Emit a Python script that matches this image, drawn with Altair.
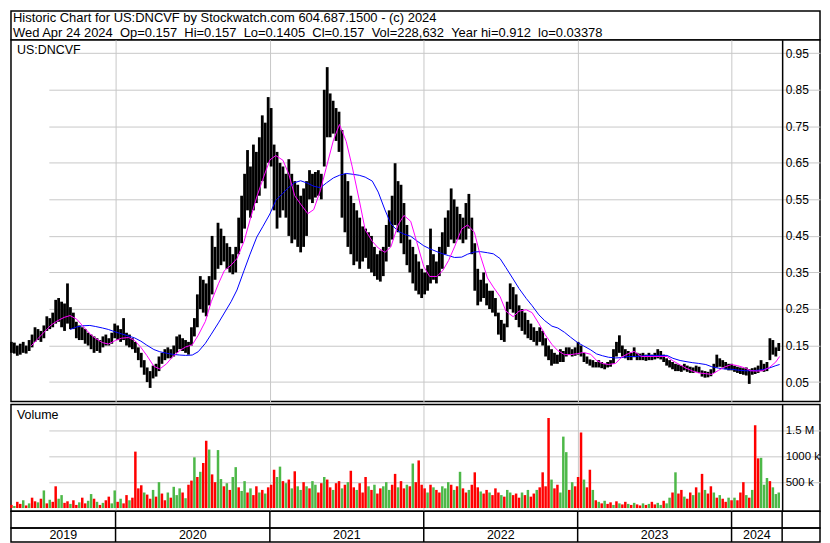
import altair as alt
import pandas as pd

# ---------------- data ----------------
header_lines = [
    "Historic Chart for US:DNCVF by Stockwatch.com 604.687.1500 - (c) 2024",
    "Wed Apr 24 2024 \u00a0Op=0.157 \u00a0Hi=0.157 \u00a0Lo=0.1405 \u00a0Cl=0.157 \u00a0Vol=228,632 \u00a0Year hi=0.912 \u00a0lo=0.03378",
]
symbol_label = "US:DNCVF"
volume_title = "Volume"

chart_start = "2019-04-28"
chart_end = "2024-04-30"
first_week = "2019-04-29"
year_starts = ["2020-01-01", "2021-01-01", "2022-01-01", "2023-01-01", "2024-01-01"]
year_labels = ["2019", "2020", "2021", "2022", "2023", "2024"]

price_ticks = [0.05, 0.10, 0.15, 0.20, 0.25, 0.30, 0.35, 0.40, 0.45, 0.50,
               0.55, 0.60, 0.65, 0.70, 0.75, 0.80, 0.85, 0.90, 0.95]
volume_ticks = [500000, 1000000, 1500000]

# weekly high / low (US$)
price_high = [
    0.160, 0.158, 0.150, 0.155, 0.160, 0.150, 0.165, 0.180, 0.200, 0.195,
    0.190, 0.205, 0.230, 0.225, 0.240, 0.275, 0.280, 0.270, 0.265, 0.320,
    0.255, 0.240, 0.215, 0.205, 0.200, 0.195, 0.185, 0.180, 0.175, 0.170,
    0.165, 0.175, 0.180, 0.170, 0.185, 0.210, 0.205, 0.195, 0.225, 0.185,
    0.180, 0.170, 0.160, 0.145, 0.130, 0.110, 0.090, 0.080, 0.095, 0.100,
    0.120, 0.130, 0.140, 0.145, 0.140, 0.150, 0.175, 0.180, 0.170, 0.165,
    0.160, 0.200, 0.225, 0.290, 0.340, 0.330, 0.320, 0.340, 0.450, 0.420,
    0.486, 0.470, 0.450, 0.430, 0.420, 0.400, 0.420, 0.500, 0.560, 0.620,
    0.685, 0.640, 0.700, 0.680, 0.720, 0.780, 0.760, 0.830, 0.800, 0.700,
    0.680, 0.650, 0.640, 0.620, 0.660, 0.620, 0.600, 0.590, 0.560, 0.580,
    0.600, 0.630, 0.620, 0.625, 0.630, 0.620, 0.850, 0.912, 0.840, 0.820,
    0.800, 0.790, 0.740, 0.620, 0.600, 0.560, 0.540, 0.520, 0.500, 0.476,
    0.470, 0.460, 0.450, 0.420, 0.400, 0.410, 0.420, 0.480, 0.520, 0.560,
    0.649, 0.600, 0.590, 0.540, 0.480, 0.440, 0.420, 0.400, 0.380, 0.360,
    0.350, 0.370, 0.470, 0.400, 0.380, 0.420, 0.460, 0.500, 0.520, 0.580,
    0.550, 0.530, 0.510, 0.500, 0.540, 0.565, 0.500, 0.430, 0.360, 0.330,
    0.350, 0.320, 0.300, 0.300, 0.280, 0.240, 0.220, 0.210, 0.270, 0.320,
    0.310, 0.290, 0.260, 0.250, 0.240, 0.220, 0.210, 0.200, 0.190, 0.200,
    0.190, 0.170, 0.150, 0.140, 0.130, 0.125, 0.140, 0.135, 0.145, 0.145,
    0.140, 0.145, 0.160, 0.150, 0.130, 0.120, 0.112, 0.110, 0.105, 0.110,
    0.105, 0.100, 0.105, 0.110, 0.140, 0.160, 0.178, 0.150, 0.140, 0.135,
    0.130, 0.145, 0.130, 0.128, 0.130, 0.125, 0.130, 0.125, 0.130, 0.140,
    0.135, 0.125, 0.115, 0.110, 0.105, 0.100, 0.098, 0.095, 0.100, 0.095,
    0.092, 0.090, 0.095, 0.092, 0.082, 0.080, 0.078, 0.085, 0.100, 0.125,
    0.115, 0.110, 0.105, 0.100, 0.100, 0.095, 0.092, 0.090, 0.088, 0.090,
    0.085, 0.088, 0.090, 0.095, 0.110, 0.100, 0.105, 0.170, 0.165, 0.145, 0.157,
]
price_low = [
    0.130, 0.128, 0.122, 0.125, 0.130, 0.128, 0.135, 0.145, 0.160, 0.165,
    0.160, 0.170, 0.190, 0.195, 0.200, 0.210, 0.215, 0.200, 0.190, 0.210,
    0.195, 0.195, 0.170, 0.165, 0.165, 0.155, 0.150, 0.140, 0.130, 0.135,
    0.130, 0.145, 0.150, 0.150, 0.155, 0.170, 0.165, 0.160, 0.165, 0.150,
    0.145, 0.140, 0.130, 0.110, 0.090, 0.070, 0.050, 0.034, 0.060, 0.065,
    0.080, 0.100, 0.110, 0.115, 0.115, 0.120, 0.130, 0.140, 0.135, 0.130,
    0.125, 0.150, 0.175, 0.200, 0.250, 0.240, 0.230, 0.260, 0.290, 0.330,
    0.360, 0.370, 0.380, 0.360, 0.350, 0.345, 0.350, 0.400, 0.430, 0.470,
    0.520, 0.500, 0.520, 0.540, 0.560, 0.600, 0.580, 0.650, 0.640, 0.520,
    0.470, 0.500, 0.520, 0.500, 0.450, 0.430, 0.440, 0.420, 0.405, 0.420,
    0.450, 0.550, 0.540, 0.555, 0.560, 0.550, 0.640, 0.720, 0.720, 0.730,
    0.710, 0.680, 0.500, 0.460, 0.420, 0.400, 0.370, 0.380, 0.360, 0.380,
    0.390, 0.360, 0.350, 0.340, 0.330, 0.325, 0.340, 0.380, 0.420, 0.440,
    0.480, 0.460, 0.430, 0.400, 0.370, 0.350, 0.320, 0.300, 0.290, 0.280,
    0.290, 0.300, 0.320, 0.330, 0.320, 0.340, 0.360, 0.400, 0.420, 0.440,
    0.430, 0.440, 0.440, 0.430, 0.440, 0.470, 0.400, 0.300, 0.260, 0.270,
    0.280, 0.260, 0.250, 0.240, 0.230, 0.180, 0.165, 0.160, 0.200, 0.250,
    0.240, 0.220, 0.200, 0.190, 0.180, 0.170, 0.165, 0.160, 0.150, 0.160,
    0.150, 0.120, 0.110, 0.095, 0.100, 0.100, 0.105, 0.105, 0.120, 0.125,
    0.120, 0.122, 0.125, 0.120, 0.105, 0.100, 0.095, 0.090, 0.090, 0.090,
    0.088, 0.085, 0.090, 0.092, 0.100, 0.120, 0.130, 0.120, 0.115, 0.110,
    0.110, 0.118, 0.110, 0.110, 0.110, 0.108, 0.110, 0.110, 0.112, 0.115,
    0.112, 0.105, 0.095, 0.090, 0.085, 0.080, 0.080, 0.078, 0.082, 0.078,
    0.075, 0.075, 0.078, 0.075, 0.065, 0.062, 0.063, 0.066, 0.075, 0.090,
    0.092, 0.090, 0.085, 0.082, 0.082, 0.078, 0.075, 0.072, 0.070, 0.068,
    0.045, 0.070, 0.072, 0.075, 0.080, 0.078, 0.080, 0.110, 0.125, 0.120, 0.135,
]
# weekly volume (thousands of shares) and up/down colour flag
volume_k = [
    60, 40, 120, 80, 150, 50, 90, 200, 130, 110,
    180, 340, 90, 160, 120, 420, 180, 250, 100, 130,
    80, 150, 60, 110, 200, 90, 140, 270, 180, 120,
    60, 100, 150, 220, 90, 340, 120, 180, 90, 250,
    150, 200, 1090, 380, 440, 300, 260, 180, 350, 220,
    500, 280, 150, 300, 200, 410, 250, 380, 300, 190,
    450, 530, 980, 600, 700, 870, 1300, 1130, 650, 500,
    1120, 560, 420, 480, 350, 600, 790, 400, 330, 520,
    300, 380, 250, 420, 300, 350, 280, 400, 450, 740,
    600, 800, 520, 480, 550, 380, 710, 420, 350, 500,
    420, 380, 520, 450, 300, 480, 600, 550, 400, 350,
    480, 520, 380, 450, 500, 720, 400, 350, 480, 300,
    600, 420, 350, 450, 280, 380, 420, 500, 350, 450,
    660, 400, 520, 380, 450, 420, 860, 500, 920, 450,
    380, 300, 450, 400, 350, 300, 420, 380, 500, 450,
    350, 420, 700, 380, 300, 350, 450, 690, 400, 320,
    280, 350, 300, 250, 380, 300, 250, 220, 350, 300,
    250, 280, 200, 300, 250, 350, 220, 280, 350, 400,
    690, 420, 1740, 550, 380, 450, 300, 1380, 1080, 350,
    500, 420, 600, 1460, 550, 400, 740, 350, 150, 120,
    90, 140, 80, 110, 60, 130, 90, 70, 120, 80,
    60, 100, 70, 50, 90, 60, 80, 120, 70, 100,
    60, 140, 90, 200, 300, 690, 280, 350, 220, 180,
    300, 250, 400, 300, 660, 350, 280, 420, 300, 200,
    250, 180, 120, 200, 150, 200, 150, 300, 500, 250,
    200, 350, 1600, 960, 970, 450, 580, 520, 400, 270, 300,
]
volume_dir = (
    "RGRRGRGRRG" "RGRGRRGGRR" "GRRGRRGGRG" "RGRRGGRGRR" "GRRRRGRRGR"
    "GRRGRGGGRG" "RRGRGRRGRR" "GGRGRGGRGG" "RGRRGRGRRR" "GGRGRGRGGR"
    "GRGGRRGRRG" "RRGRGRRGRR" "RGRGRRGGGR" "RGRRGRGRRR" "RGRGRRGGGR"
    "GRGRRGRRRG" "RRGRRRGRGG" "RRRGRGRRGR" "RRRGRRGGGR" "GRRRGRRGRG"
    "RGRRGRGRRG" "RGRRGRGRRG" "GRGGRGRRGR" "RGRGRGRRGR" "GRRGRGRRRG"
    "RGRRGGGRGG" "G"
)

# moving averages read on the 1st and 15th of each month
ma_short = [
    0.149, 0.169, 0.186, 0.206, 0.217, 0.227, 0.232, 0.222, 0.204, 0.182, 0.169, 0.158, 0.154,
    0.164, 0.170, 0.172, 0.164, 0.145, 0.123, 0.093, 0.086, 0.100, 0.119, 0.136, 0.146,
    0.152, 0.178, 0.216, 0.270, 0.319, 0.355, 0.370, 0.388, 0.436, 0.494, 0.557, 0.604,
    0.658, 0.670, 0.657, 0.619, 0.560, 0.537, 0.511, 0.522, 0.575, 0.638, 0.713, 0.755,
    0.709, 0.641, 0.548, 0.467, 0.435, 0.417, 0.405, 0.420, 0.480, 0.506, 0.490, 0.435,
    0.366, 0.339, 0.339, 0.355, 0.383, 0.420, 0.469, 0.480, 0.460, 0.397, 0.335, 0.310,
    0.284, 0.244, 0.229, 0.244, 0.248, 0.240, 0.210, 0.181, 0.153, 0.136, 0.125, 0.125,
    0.128, 0.131, 0.126, 0.109, 0.101, 0.098, 0.101, 0.118, 0.128, 0.134, 0.120, 0.120,
    0.120, 0.120, 0.120, 0.108, 0.097, 0.088, 0.080, 0.075, 0.073, 0.071, 0.082, 0.091,
    0.098, 0.095, 0.089, 0.081, 0.080, 0.081, 0.091, 0.105, 0.120,
]
ma_long = [
    None, None, None, None, None, None, 0.194, 0.201, 0.204, 0.205, 0.202, 0.198, 0.194,
    0.187, 0.182, 0.176, 0.171, 0.162, 0.151, 0.139, 0.133, 0.129, 0.126, 0.124, 0.123,
    0.124, 0.133, 0.156, 0.181, 0.212, 0.239, 0.270, 0.302, 0.356, 0.400, 0.447, 0.475,
    0.510, 0.547, 0.567, 0.583, 0.596, 0.601, 0.594, 0.586, 0.582, 0.595, 0.609, 0.616,
    0.621, 0.619, 0.616, 0.611, 0.600, 0.570, 0.521, 0.483, 0.463, 0.455, 0.449, 0.437,
    0.423, 0.415, 0.407, 0.401, 0.396, 0.391, 0.392, 0.400, 0.406, 0.407, 0.404, 0.401,
    0.388, 0.363, 0.332, 0.306, 0.279, 0.259, 0.234, 0.218, 0.203, 0.198, 0.186, 0.173,
    0.158, 0.149, 0.138, 0.127, 0.122, 0.118, 0.116, 0.117, 0.120, 0.120, 0.121, 0.123,
    0.123, 0.123, 0.123, 0.115, 0.109, 0.106, 0.103, 0.101, 0.098, 0.092, 0.088, 0.086,
    0.085, 0.083, 0.081, 0.081, 0.082, 0.084, 0.089, 0.095, 0.098,
]

# ---------------- tables ----------------
weeks = pd.date_range(first_week, periods=len(price_high), freq="7D")
assert len(price_low) == len(price_high) == len(volume_k) == len(volume_dir)
price_df = pd.DataFrame({"date": weeks, "high": price_high, "low": price_low})
vol_df = pd.DataFrame({"date": weeks, "volume": [v * 1000 for v in volume_k],
                       "dir": list(volume_dir)})

ma_dates = []
for yy in range(2019, 2025):
    for mm in range(1, 13):
        for dd in (1, 15):
            t = pd.Timestamp(yy, mm, dd)
            if pd.Timestamp(2019, 6, 15) <= t <= pd.Timestamp(2024, 4, 15):
                ma_dates.append(t)
ma_dates.append(pd.Timestamp(2024, 4, 24))
assert len(ma_dates) == len(ma_short) == len(ma_long)
ma_df = pd.DataFrame({"date": ma_dates, "short": ma_short, "long": ma_long})

t0, t1 = pd.Timestamp(chart_start), pd.Timestamp(chart_end)
bounds = [pd.Timestamp(s) for s in year_starts]
edges = [t0] + bounds + [t1]
label_df = pd.DataFrame({
    "mid": [edges[k] + (edges[k + 1] - edges[k]) / 2 for k in range(len(year_labels))],
    "label": year_labels,
})
sep_df = pd.DataFrame({"date": bounds + [t1]})
header_df = pd.DataFrame({"text": header_lines})

# ---------------- styling ----------------
FONT = "Liberation Sans"
GRID = "#c8c8c8"
RED = "#ff0000"
GREEN = "#4db848"
VIEW_W = 812          # whole width inside the outer frame
PLOT_W = 774          # data area; the rest is the right-hand scale column

x_scale = alt.Scale(domain=[alt.DateTime(year=t0.year, month=t0.month, date=t0.day),
                            alt.DateTime(year=t1.year, month=t1.month, date=t1.day)],
                    range=[0, PLOT_W])
x_axis = alt.Axis(values=[alt.DateTime(year=b.year, month=1, date=1) for b in bounds],
                  grid=True, gridColor=GRID, gridWidth=1, labels=False, ticks=False,
                  domain=False, title=None)

def right_axis(values, size=12, **kw):
    return alt.Axis(orient="right", offset=PLOT_W - VIEW_W, values=values, grid=True,
                    gridColor=GRID, gridWidth=1, ticks=False, domain=True,
                    domainColor="black", domainWidth=1.5, labelAlign="left",
                    labelPadding=3, labelFontSize=size, labelOverlap=False,
                    labelFlush=False, title=None, **kw)

# header
header = alt.layer(
    alt.Chart(header_df.iloc[[0]]).mark_text(align="left", baseline="middle", fontSize=13,
                                             color="black").encode(
        x=alt.value(2), y=alt.value(7.5), text="text:N"),
    alt.Chart(header_df.iloc[[1]]).mark_text(align="left", baseline="middle", fontSize=13,
                                             color="black").encode(
        x=alt.value(2), y=alt.value(22), text="text:N"),
).properties(width=VIEW_W, height=29)

# price panel
py = alt.Scale(domain=[-0.0033, 0.9866], nice=False, zero=False)
bars = alt.Chart(price_df).mark_rule(color="black", strokeWidth=2.8).encode(
    x=alt.X("date:T", scale=x_scale, axis=x_axis),
    y=alt.Y("low:Q", scale=py, axis=right_axis(price_ticks, format=".2f")),
    y2="high:Q",
)
ma1 = alt.Chart(ma_df).mark_line(color="#ff00ff", strokeWidth=1).encode(
    x=alt.X("date:T", scale=x_scale), y=alt.Y("short:Q", scale=py))
ma2 = alt.Chart(ma_df).mark_line(color="#0000ff", strokeWidth=1).encode(
    x=alt.X("date:T", scale=x_scale), y=alt.Y("long:Q", scale=py))
sym = alt.Chart(pd.DataFrame({"t": [symbol_label]})).mark_text(
    align="left", baseline="middle", fontSize=12.5, color="black").encode(
    x=alt.value(6), y=alt.value(10), text="t:N")
price = alt.layer(bars, ma2, ma1, sym).properties(width=VIEW_W, height=363)

# thin gap giving the double rule between the two panels
gap = alt.Chart(pd.DataFrame({"t": [""]})).mark_text().encode(
    text="t:N").properties(width=VIEW_W, height=2.5)

# volume panel
vy = alt.Scale(domain=[-60000, 2000000], nice=False, zero=False)
vbars = alt.Chart(vol_df).mark_rule(strokeWidth=2.5).encode(
    x=alt.X("date:T", scale=x_scale, axis=x_axis),
    y=alt.Y("volume:Q", scale=vy, axis=right_axis(
        volume_ticks, size=11.5,
        labelExpr="datum.value >= 1500000 ? '1.5 M' : format(datum.value / 1000, 'd') + ' k'")),
    y2=alt.datum(0),
    color=alt.Color("dir:N", scale=alt.Scale(domain=["R", "G"], range=[RED, GREEN]), legend=None),
)
vtxt = alt.Chart(pd.DataFrame({"t": [volume_title]})).mark_text(
    align="left", baseline="middle", fontSize=12.5, color="black").encode(
    x=alt.value(6), y=alt.value(11), text="t:N")
volume = alt.layer(vbars, vtxt).properties(width=VIEW_W, height=107)

# bottom strip and year labels
seps = alt.Chart(sep_df).mark_rule(color="black", strokeWidth=1.5).encode(
    x=alt.X("date:T", scale=x_scale, axis=None))
strip = seps.properties(width=VIEW_W, height=17)
ylabels = alt.Chart(label_df).mark_text(baseline="middle", align="center", fontSize=12.5,
                                        color="black").encode(
    x=alt.X("mid:T", scale=x_scale, axis=None), y=alt.value(7), text="label:N")
years = alt.layer(seps, ylabels).properties(width=VIEW_W, height=14)

chart = alt.vconcat(
    header, price, gap, volume, strip, years,
    spacing=0,
    bounds="flush",
).properties(padding=1, background="white").configure_view(
    stroke="black", strokeWidth=1.5
).configure_axis(labelFont=FONT, labelColor="black").configure_text(font=FONT)

chart.save("out.html", embed_options={"renderer": "svg", "actions": False})
